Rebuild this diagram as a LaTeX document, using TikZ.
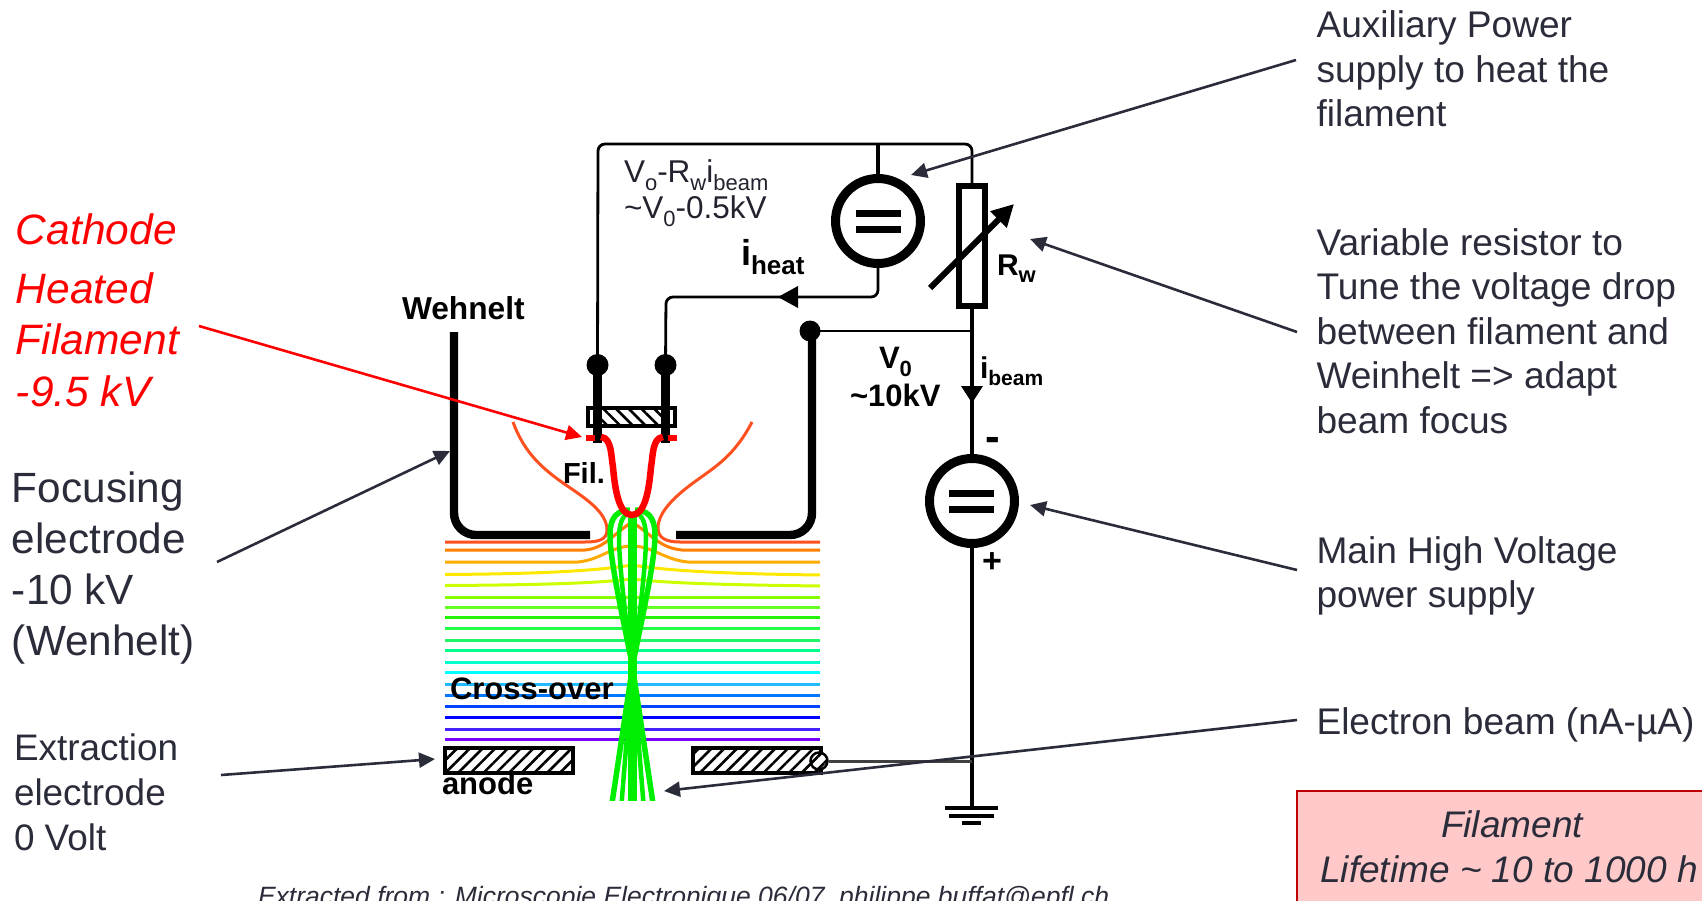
\documentclass[tikz,border=0pt]{standalone}
\usepackage{fontspec}
\setmainfont{Liberation Sans}
\usetikzlibrary{arrows.meta,patterns.meta}
\definecolor{ink}{HTML}{2B2C3A}
\definecolor{boxfill}{HTML}{FFC9C9}
\definecolor{boxline}{HTML}{C00000}
\newcommand\fs[2]{\fontsize{#1}{#2}\selectfont}
\newcommand\lsub[2]{\raisebox{-.26em}{\fontsize{#1}{#1}\selectfont #2}}
\tikzset{
  lab/.style={anchor=base west,inner sep=0pt,outer sep=0pt,text=black},
  note/.style={inner sep=0pt,outer sep=0pt,text=ink,align=left,anchor=west,font=\fs{37.1}{44.6}},
  redline/.style={lab,text=red,font=\fs{42.5}{42.5}\itshape},
  leader/.style={draw=ink,line width=2.6pt,-{Triangle[length=16pt,width=15pt]},shorten >=0pt},
  wire/.style={draw=black,line width=2.8pt,rounded corners=7pt},
  post/.style={draw=black,line width=9pt},
  cup/.style={draw=black,line width=8.4pt,rounded corners=22pt},
  terminal/.style={circle,fill=black,inner sep=0pt,minimum size=#1},
  source/.style={circle,draw=black,line width=9pt,fill=white,minimum size=85pt,inner sep=0pt},
  plate/.style={draw=black,line width=7pt},
  field/.style={line width=3pt},
  fil/.style={draw=red,line width=6.5pt},
  hatched/.style={draw=black,line width=4pt,fill=white,postaction={pattern={Lines[angle=#1,distance=9pt,line width=2.6pt]},pattern color=black}},
}
\begin{document}
\begin{tikzpicture}[x=1pt,y=-1pt]
\useasboundingbox (0,0) rectangle (1702,900);
\clip (0,0) rectangle (1702,900);
% field lines
\foreach \yy/\cc in {597/88FF00,607/66FF22,617/22F500,628/22FF44,640/22F566,650/00FF88,662/00FFCC,672/00FFFF,684/22BBFF,695/0077FF,706/0044FF,717/0000FF,729/4422FF,739/7700FF}{
  \definecolor{fc}{HTML}{\cc}
  \draw[field,fc] (445,\yy) -- (820,\yy);
}
\definecolor{f1}{HTML}{FF5020}
\definecolor{f2}{HTML}{FF7F00}
\definecolor{f3}{HTML}{FFAA00}
\definecolor{f4}{HTML}{FFE800}
\definecolor{f5}{HTML}{CCFF00}
\draw[field,f1] (513,422) .. controls (525,455) and (545,470) .. (563,483) .. controls (585,498) and (607,512) .. (607,530) .. controls (607,540) and (598,542) .. (585,542) -- (445,542);
\draw[field,f1] (752,422) .. controls (735,455) and (715,467) .. (700,478) .. controls (680,492) and (658,510) .. (658,528) .. controls (658,538) and (666,542) .. (680,542) -- (820,542);
\draw[field,f2] (445,550) -- (585,550) .. controls (605,548) and (612,535) .. (632,522) .. controls (652,535) and (660,548) .. (682,550) -- (820,550);
\draw[field,f3] (445,562) -- (578,562) .. controls (600,560) and (612,546) .. (632,546) .. controls (652,546) and (665,560) .. (688,562) -- (820,562);
\draw[field,f4] (445,574.5) .. controls (520,574) and (590,572) .. (632,565) .. controls (675,572) and (745,574) .. (820,575);
\draw[field,f5] (445,585.5) .. controls (520,585) and (590,584) .. (632,579) .. controls (675,584) and (745,585) .. (820,586);
% Wehnelt electrode
\draw[cup] (454,332) -- (454,535) -- (590,535);
\draw[cup] (676,535) -- (812,535) -- (812,332);
% electron beam
\begin{scope}
\clip (560,500) rectangle (700,800);
\definecolor{bg}{HTML}{00EE00}
\draw[bg,line width=9pt] (632.5,515) -- (632.5,810);
\draw[bg,line width=5.5pt] (630,510) .. controls (612,510) and (610,525) .. (610,535) .. controls (610,565) and (628,640) .. (632.5,667) -- (654,810);
\draw[bg,line width=5.5pt] (635,510) .. controls (653,510) and (655,525) .. (655,535) .. controls (655,565) and (637,640) .. (632.5,667) -- (611,810);
\draw[bg,line width=4.5pt] (630,512) .. controls (622,515) and (619,525) .. (619,538) .. controls (619,565) and (628,640) .. (632.5,667) -- (644,810);
\draw[bg,line width=4.5pt] (635,512) .. controls (643,515) and (646,525) .. (646,538) .. controls (646,565) and (637,640) .. (632.5,667) -- (621,810);
\end{scope}
% filament holder
\draw[draw=black,line width=4pt,fill=white] (588,408) rectangle (675,426);
\begin{scope}
\clip (602,409) rectangle (661,425);
\fill[pattern={Lines[angle=-45,distance=9pt,line width=2.6pt]},pattern color=black] (602,409) rectangle (661,425);
\end{scope}
\node[terminal=22pt] (t1) at (597.5,365) {};
\node[terminal=22pt] (t2) at (665.5,365) {};
\node[terminal=21pt] (t3) at (810,331) {};
\draw[post] (t1.center) -- (597.5,443);
\draw[post] (t2.center) -- (665.5,443);
% filament
\draw[fil] (586,438) -- (595,438);
\draw[fil] (668,438) -- (677,438);
\draw[fil] (601,437) .. controls (612,438) and (611,457) .. (613,467) .. controls (615,490) and (619,515) .. (632,515) .. controls (645,515) and (649,490) .. (651,467) .. controls (653,457) and (652,438) .. (663,437);
% sources
\node[source] (aux) at (878,221) {};
\node[source] (main) at (972,501) {};
\draw[plate] (856,213) -- (901,213);
\draw[plate] (856,229) -- (901,229);
\draw[plate] (949,493) -- (994,493);
\draw[plate] (949,509) -- (994,509);
% resistor
\node[draw=black,line width=6pt,fill=white,minimum width=26pt,minimum height=120pt,inner sep=0pt] (rw) at (972,246) {};
% wires
\coordinate (topleft) at (598,144);
\coordinate (topright) at (972,144);
\coordinate (heatcorner) at (878,297);
\coordinate (heatcorner2) at (666,297);
\coordinate (gnd) at (972,807);
\draw[wire] (t1.center) -- (topleft) -- (topright) -- (rw.north);
\draw[wire,line width=3.5pt] (aux.north) -- (878,144);
\draw[wire] (aux.south) -- (heatcorner) -- (heatcorner2) -- (t2.center);
\draw[wire] (t3.center) -- (972,331);
\draw[wire,line width=3.5pt] (rw.south) -- (main.north);
\draw[wire,line width=3.5pt] (main.south) -- (gnd);
% arrows on wires
\fill[black] (778,297) -- (798,286) -- (798,308) -- cycle;
\fill[black] (972,403) -- (961,386) -- (983,386) -- cycle;
% variable resistor arrow
\draw[draw=black,line width=6pt,-{Triangle[length=22pt,width=22pt]}] (930,288) -- (1014,204);
% ground
\draw[draw=black,line width=4pt] (945,808) -- (998,808);
\draw[draw=black,line width=4pt] (949,815.5) -- (994,815.5);
\draw[draw=black,line width=4pt] (962,823) -- (981,823);
% anode
\node[hatched=45,minimum width=128pt,minimum height=25pt,inner sep=0pt] (anL) at (509,760.5) {};
\node[hatched=45,minimum width=128pt,minimum height=25pt,inner sep=0pt] (anR) at (757,760.5) {};
\node[circle,hatched=45,line width=2.5pt,minimum size=17pt,inner sep=0pt] (anC) at (819,761) {};
\draw[draw=black!75,line width=3pt] (anC.east) -- (972,761);
% diagram labels
\node[lab,text=ink!80!black,font=\fs{31.5}{36}] (vlab) at (624,182) {V\lsub{22}{o}-R\lsub{22}{w}i\lsub{22}{beam}};
\node[lab,text=ink!80!black,font=\fs{31.5}{36}] (vlab2) at (624,218) {\textasciitilde V\lsub{22}{0}-0.5kV};
\node[lab,font=\fs{36}{36}\bfseries] (iheat) at (741,265) {i\lsub{26}{heat}};
\node[lab,font=\fs{31.7}{32}\bfseries] (weh) at (402,319) {Wehnelt};
\node[lab,font=\fs{29}{29}\bfseries] (fillab) at (563,483) {Fil.};
\node[lab,font=\fs{30}{30}\bfseries] (rwlab) at (997,275) {R\lsub{22}{w}};
\node[lab,font=\fs{31}{31}\bfseries] (v0) at (879,368) {V\lsub{22}{0}};
\node[lab,font=\fs{31}{31}\bfseries] (v10) at (850,406) {\textasciitilde 10kV};
\node[lab,font=\fs{30}{30}\bfseries] (ibeam) at (980,378) {i\lsub{21}{beam}};
\node[lab,font=\fs{44}{44}\bfseries] (minus) at (985,451) {-};
\node[lab,font=\fs{34}{34}\bfseries] (plus) at (982,572) {+};
\node[lab,font=\fs{31}{31}\bfseries] (cross) at (450,699) {Cross-over};
\node[lab,font=\fs{31}{31}\bfseries] (anode) at (442,794) {anode};
% left annotations
\node[redline] (c1) at (16,244) {Cathode};
\node[redline] (c2) at (16,303) {Heated};
\node[redline] (c3) at (16,354) {Filament};
\node[redline] (c4) at (16,406) {-9.5 kV};
\node[note,font=\fs{42.3}{51}] (focus) at (12,568) {Focusing\\electrode\\-10 kV\\(Wenhelt)};
\node[note,font=\fs{36.9}{45}] (extr) at (14,792) {Extraction\\electrode\\0 Volt};
% right annotations
\node[note] (auxl) at (1316.5,69) {Auxiliary Power\\supply to heat the\\filament};
\node[note] (varl) at (1316.5,331) {Variable resistor to\\Tune the voltage drop\\between filament and\\Weinhelt => adapt\\beam focus};
\node[note] (mainl) at (1316.5,576) {Main High Voltage\\power supply};
\node[note] (beaml) at (1316.5,725) {Electron beam (nA-µA)};
% red box
\draw[draw=boxline,line width=2pt,fill=boxfill] (1297,791) rectangle (1720,920);
\node[lab,anchor=base,text=ink,font=\fs{37}{37}\itshape] (b1) at (1512,837) {Filament};
\node[lab,anchor=base,text=ink,font=\fs{37}{37}\itshape] (b2) at (1509,882) {Lifetime \textasciitilde{} 10 to 1000 h};
\node[lab,text=ink,font=\fs{26.5}{26.5}\itshape] (cap) at (258,905) {Extracted from : Microscopie Electronique 06/07, philippe.buffat@epfl.ch};
% leaders
\coordinate (a1) at (1296,60); \coordinate (a2) at (911,175);
\coordinate (b1t) at (1297,332); \coordinate (b2t) at (1030,239);
\coordinate (m1) at (1297,570); \coordinate (m2) at (1030,505);
\coordinate (e1) at (1297,720); \coordinate (e2) at (664,791);
\coordinate (f1t) at (217,562); \coordinate (f2t) at (450,451);
\coordinate (x1) at (221,775); \coordinate (x2) at (435,759);
\coordinate (r1) at (199,326); \coordinate (r2) at (582,437);
\draw[leader] (a1) -- (a2);
\draw[leader] (b1t) -- (b2t);
\draw[leader] (m1) -- (m2);
\draw[leader] (e1) -- (e2);
\draw[leader] (f1t) -- (f2t);
\draw[leader] (x1) -- (x2);
\draw[leader,draw=red] (r1) -- (r2);
\end{tikzpicture}
\end{document}
